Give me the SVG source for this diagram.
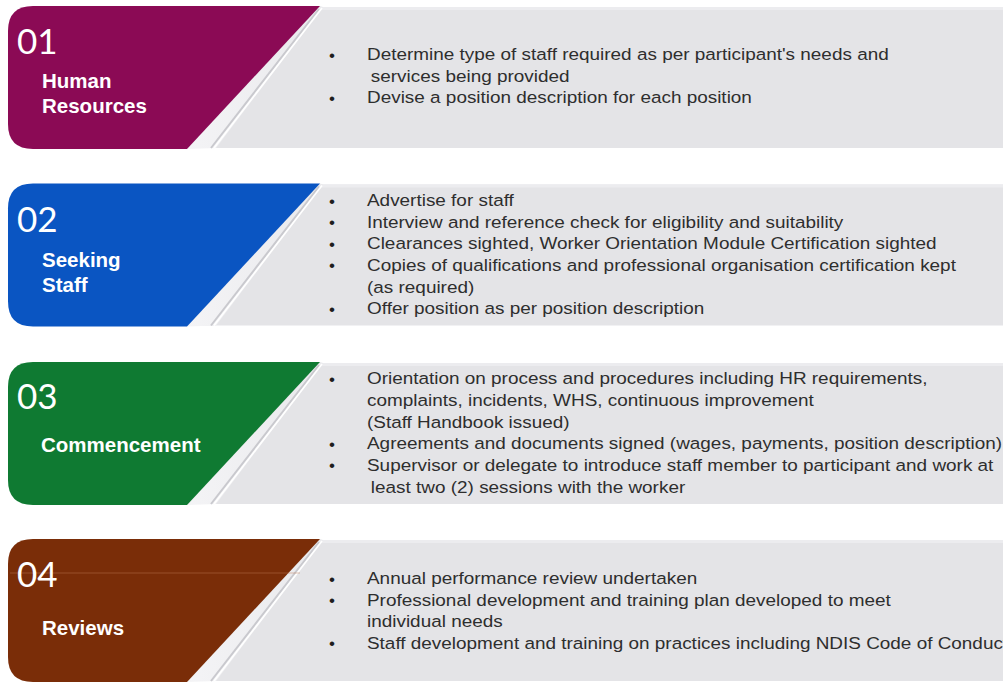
<svg xmlns="http://www.w3.org/2000/svg" width="1003" height="683" viewBox="0 0 1003 683">
  <defs>
    <linearGradient id="fold" x1="0" y1="0" x2="1" y2="0">
      <stop offset="0" stop-color="#f4f4f6"/>
      <stop offset="1" stop-color="#e9e9ec"/>
    </linearGradient>
    <!-- one step of the process: grey panel, folded corner and coloured tab -->
    <g id="panel">
      <rect x="180" y="1" width="823" height="141" fill="#e4e4e7"/>
      <rect x="180" y="1" width="823" height="3" fill="#ececef"/>
      <polygon points="320,0 187,143 216,142 323,1" fill="url(#fold)"/>
      <line x1="319" y1="3" x2="211" y2="142" stroke="#c9c9ce" stroke-width="2"/>
      <line x1="322" y1="2" x2="214" y2="142" stroke="#ffffff" stroke-width="1.6"/>
    </g>
    <path id="tab" d="M33,0 H320 L187,143 H33 Q8,143 8,118 V25 Q8,0 33,0 Z"/>
  </defs>
  <style>
    .num { font-family: Lato, "Open Sans", sans-serif; font-weight: 400; font-size: 35px; fill: #ffffff; }
    .lbl { font-family: "Liberation Sans", Arial, sans-serif; font-weight: bold; font-size: 20.5px; fill: #ffffff; }
    .body { font-family: "Liberation Sans", Arial, sans-serif; font-size: 17.2px; fill: #2e2e2e; }
    .dot { font-family: "Liberation Sans", Arial, sans-serif; font-size: 17px; fill: #1e1e1e; }
  </style>
  <rect width="1003" height="683" fill="#ffffff"/>

  <!-- 01 Human Resources -->
  <g id="step-01">
    <g transform="translate(0,6)">
      <use href="#panel"/>
      <use href="#tab" fill="#8b0a55"/>
    </g>
    <text class="num" x="17" y="53.5">01</text>
    <text class="lbl" x="42" y="88">Human</text>
    <text class="lbl" x="42" y="113">Resources</text>
    <text class="dot" x="329" y="60.5">•</text>
    <text class="dot" x="329" y="103.5">•</text>
    <g transform="translate(367,0) scale(1.1,1)" class="body">
      <text class="body" x="0" y="60.5">Determine type of staff required as per participant's needs and</text>
      <text class="body" x="3.5" y="82">services being provided</text>
      <text class="body" x="0" y="103.5">Devise a position description for each position</text>
    </g>
  </g>

  <!-- 02 Seeking Staff -->
  <g id="step-02">
    <g transform="translate(0,183.5)">
      <use href="#panel"/>
      <use href="#tab" fill="#0a55c2"/>
    </g>
    <text class="num" x="17" y="231.5">02</text>
    <text class="lbl" x="42" y="266.5">Seeking</text>
    <text class="lbl" x="42" y="291.5">Staff</text>
    <text class="dot" x="329" y="206.5">•</text>
    <text class="dot" x="329" y="228">•</text>
    <text class="dot" x="329" y="249.5">•</text>
    <text class="dot" x="329" y="271">•</text>
    <text class="dot" x="329" y="314.5">•</text>
    <g transform="translate(367,0) scale(1.1,1)">
      <text class="body" x="0" y="206.5">Advertise for staff</text>
      <text class="body" x="0" y="228">Interview and reference check for eligibility and suitability</text>
      <text class="body" x="0" y="249.5">Clearances sighted, Worker Orientation Module Certification sighted</text>
      <text class="body" x="0" y="271">Copies of qualifications and professional organisation certification kept</text>
      <text class="body" x="0" y="293">(as required)</text>
      <text class="body" x="0" y="314.5">Offer position as per position description</text>
    </g>
  </g>

  <!-- 03 Commencement -->
  <g id="step-03">
    <g transform="translate(0,362)">
      <use href="#panel"/>
      <use href="#tab" fill="#0f7a32"/>
    </g>
    <text class="num" x="17" y="409">03</text>
    <text class="lbl" x="41" y="451.5">Commencement</text>
    <text class="dot" x="329" y="384.5">•</text>
    <text class="dot" x="329" y="449.5">•</text>
    <text class="dot" x="329" y="471">•</text>
    <g transform="translate(367,0) scale(1.1,1)">
      <text class="body" x="0" y="384.5">Orientation on process and procedures including HR requirements,</text>
      <text class="body" x="0" y="406">complaints, incidents, WHS, continuous improvement</text>
      <text class="body" x="0" y="428">(Staff Handbook issued)</text>
      <text class="body" x="0" y="449.5">Agreements and documents signed (wages, payments, position description)</text>
      <text class="body" x="0" y="471">Supervisor or delegate to introduce staff member to participant and work at</text>
      <text class="body" x="3.5" y="493">least two (2) sessions with the worker</text>
    </g>
  </g>

  <!-- 04 Reviews -->
  <g id="step-04">
    <g transform="translate(0,539)">
      <use href="#panel"/>
      <use href="#tab" fill="#7a2d08"/>
    </g>
    <line x1="10" y1="573" x2="300" y2="573" stroke="#c07a55" stroke-width="1" opacity="0.45"/>
    <text class="num" x="17" y="587">04</text>
    <text class="lbl" x="42" y="635">Reviews</text>
    <text class="dot" x="329" y="584.5">•</text>
    <text class="dot" x="329" y="606">•</text>
    <text class="dot" x="329" y="649">•</text>
    <g transform="translate(367,0) scale(1.1,1)">
      <text class="body" x="0" y="584.5">Annual performance review undertaken</text>
      <text class="body" x="0" y="606">Professional development and training plan developed to meet</text>
      <text class="body" x="0" y="627.5">individual needs</text>
      <text class="body" x="0" y="649">Staff development and training on practices including NDIS Code of Conduct</text>
    </g>
  </g>
</svg>
